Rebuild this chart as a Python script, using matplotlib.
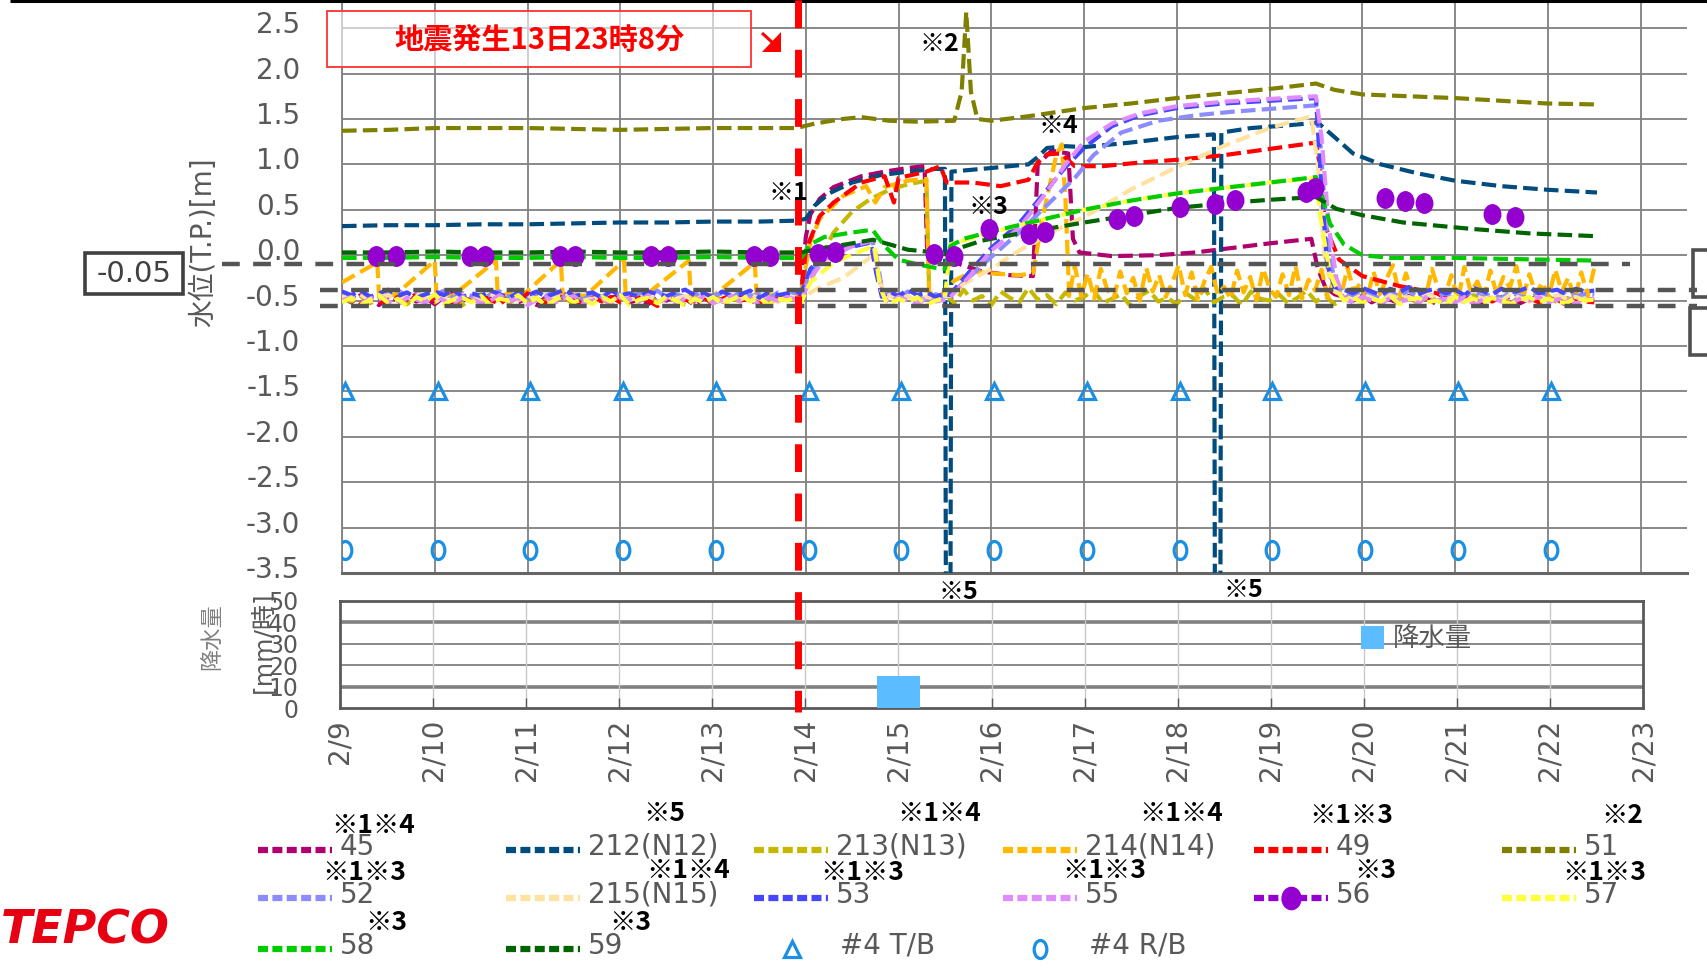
import numpy as np
import matplotlib
matplotlib.use('Agg')
import matplotlib.pyplot as plt
from matplotlib.markers import MarkerStyle
from matplotlib.transforms import Affine2D, ScaledTranslation, blended_transform_factory
from matplotlib.lines import Line2D
from matplotlib.patches import Rectangle, Polygon

plt.rcParams['font.family'] = ['DejaVu Sans', 'Noto Sans CJK JP']
plt.rcParams['axes.unicode_minus'] = False

# ---------------- DATA (t = days since 2/9 00:00, values in cm unless noted) -------------
date_labels = ['2/9', '2/10', '2/11', '2/12', '2/13', '2/14', '2/15', '2/16',
               '2/17', '2/18', '2/19', '2/20', '2/21', '2/22', '2/23']
y_ticks = [-3.5, -3.0, -2.5, -2.0, -1.5, -1.0, -0.5, 0.0, 0.5, 1.0, 1.5, 2.0, 2.5]
rain_ticks = [0, 10, 20, 30, 40, 50]
quake_t = 4.92
ref_levels = [-0.10, -0.38, -0.56]

series_names = ['45', '212(N12)', '213(N13)', '214(N14)', '49', '51', '52', '215(N15)',
                '53', '55', '56', '57', '58', '59']
series_notes = ['※1※4', '※5', '※1※4', '※1※4', '※1※3', '※2', '※1※3', '※1※4',
                '※1※3', '※1※3', '※3', '※1※3', '※3', '※3']

rain_t = [6.0]
rain_v = [15]

# building markers (#4 T/B at -1.5 m, #4 R/B at -3.25 m)
tb_t = [0.03, 1.03, 2.03, 3.03, 4.03, 5.03, 6.03, 7.03, 8.03, 9.03, 10.03, 11.03, 12.03, 13.03]
tb_v = [-1.5] * 14
rb_t = [0.03, 1.03, 2.03, 3.03, 4.03, 5.03, 6.03, 7.03, 8.03, 9.03, 10.03, 11.03, 12.03, 13.03]
rb_v = [-3.25] * 14

# 45
base45 = [-46, -52, -44, -49, -55, -45, -50, -43, -51, -47, -54, -46, -42, -50, -48, -53, -45, -49, -44, -52,
          -47, -55, -46, -50, -43, -48, -53, -45, -51, -47, -44, -52, -49, -54, -46, -50, -43, -48, -55, -47,
          -45, -51, -49, -44, -53, -46, -50, -48, -45, -47]
post45_t = [4.95, 5.0, 5.05, 5.15, 5.3, 5.6, 5.85, 6.1, 6.28, 6.31, 6.4, 6.6, 6.9, 7.2, 7.45, 7.5, 7.65, 7.83,
            7.88, 7.95, 8.3, 8.8, 9.2, 9.6, 10.0, 10.45, 10.52, 10.6, 10.7]
post45_v = [-44, 20, 45, 62, 75, 87, 92, 96, 98, 0, -3, -8, -18, -22, -23, 100, 115, 112,
            18, 3, -1, 0, 3, 8, 13, 18, -15, -35, -43]
tail45 = [-46, -50, -44, -52, -47, -49, -53, -45, -50, -48, -54, -46, -51, -44, -49, -52, -47, -50, -45, -53,
          -48, -46, -51, -49, -55, -47, -50, -48]

# 212(N12)
k212_t = [0, 0.5, 1, 1.5, 2, 2.5, 3, 3.5, 4, 4.5, 4.9, 5.0, 5.1, 5.25, 5.5, 5.8, 6.1, 6.4, 6.5, 6.51, 6.56,
          6.57, 7.0, 7.4, 7.5, 7.6, 7.8, 8.0, 8.5, 9.0, 9.4, 9.41, 9.47, 9.48, 9.8, 10.2, 10.52, 10.7, 10.9,
          11.2, 11.6, 12.0, 12.5, 13.0, 13.53]
k212_v = [32, 33, 33, 34, 34, 35, 36, 36, 37, 37, 38, 40, 55, 68, 80, 88, 92, 95, 95, -360, -360,
          92, 96, 100, 108, 118, 120, 119, 124, 130, 133, -360, -360, 135, 140, 143, 146, 130, 112,
          100, 90, 82, 76, 72, 69]

# 213(N13)
base213 = [-47, -51, -45, -53, -48, -44, -50, -54, -46, -49, -52, -45, -48, -55, -47, -43, -51, -49, -53, -46,
           -50, -44, -52, -48, -47, -54, -45, -50, -49, -53, -46, -48, -51, -44, -52, -47, -50, -55, -46, -49,
           -53, -45, -48, -51, -47, -44, -52, -49, -46, -50]
post213_t = [4.95, 5.05, 5.15, 5.3, 5.5, 5.7, 5.9, 6.1, 6.3, 6.33]
post213_v = [-45, -30, -5, 25, 48, 62, 72, 78, 82, -40]
tail213 = [-48, -42, -53, -38, -50, -45, -55, -40, -47, -52, -36, -49, -44, -54, -41, -50, -46, -38, -53, -48,
           -43, -56, -45, -39, -51, -47, -54, -42, -49, -37, -52, -46, -44, -55, -40, -48, -50, -43, -53, -47,
           -39, -51, -45, -54, -48, -42, -50, -46, -52, -44, -49, -47, -53, -45, -50, -48, -46, -52, -44, -51,
           -49, -47, -53, -46, -50, -48, -45, -52, -47, -50, -49, -51]

# 214(N14)
k214_t = [0, 0.38, 0.40, 0.5, 0.57, 1.0, 1.02, 1.1, 1.19, 1.66, 1.68, 1.8, 1.94, 2.36, 2.38, 2.5, 2.62, 3.04,
          3.06, 3.15, 3.26, 3.74, 3.76, 3.9, 4.0, 4.45, 4.47, 4.6, 4.75, 4.9, 4.95, 5.05, 5.15, 5.4, 5.65,
          5.75, 5.85, 6.1, 6.3, 6.33, 6.45, 6.6, 6.8, 7.0, 7.3, 7.45, 7.55, 7.7, 7.76, 7.8, 7.84]
k214_v = [-30, -8, -46, -42, -44, -6, -47, -43, -45, -6, -46, -42, -45, -6, -47, -43, -45, -6,
          -46, -43, -45, -6, -47, -43, -45, -8, -46, -43, -47, -45, -40, 15, 40, 65, 76,
          58, 75, 82, 84, -42, -45, -28, -18, -20, -22, -20, 40, 110, 122, 60, -45]
tail214 = [-12, -45, -20, -48, -15, -38, -47, -18, -42, -25, -50, -14, -40, -22, -46, -30, -11, -44, -19, -49,
           -28, -13, -43, -35, -48, -17, -41, -24, -50, -15, -37, -46, -21, -44, -12, -48, -27, -39, -16, -47,
           -23, -45, -14, -40, -31, -49, -18, -43, -26, -11, -46, -20, -42, -34, -48, -15, -38, -45, -22, -50,
           -13, -41, -29, -47, -17, -44, -24, -36, -12, -48, -21, -43, -30, -46, -16, -40, -25, -49, -19, -45,
           -14]

# 49
base49 = [-48, -44, -53, -47, -50, -56, -46, -49, -43, -52, -48, -45, -55, -47, -51, -44, -49, -54, -46, -50,
          -42, -48, -53, -45, -47, -55, -49, -44, -51, -46, -52, -48, -45, -50, -56, -47, -43, -49, -51, -46,
          -54, -48, -44, -50, -47, -53, -45, -49, -46, -48]
post49_t = [4.95, 5.0, 5.05, 5.15, 5.3, 5.6, 5.85, 5.95, 6.0, 6.3, 6.45, 6.52, 6.8, 7.1, 7.4, 7.5, 7.6, 7.75,
            7.9, 8.2, 8.6, 9.0, 9.5, 10.0, 10.5, 10.54, 10.6, 10.75, 11.0, 11.4, 11.8]
post49_v = [-45, 5, 18, 43, 58, 80, 87, 58, 85, 92, 98, 80, 80, 76, 83, 102, 111, 112,
            98, 98, 102, 105, 110, 117, 124, 100, 32, -5, -23, -34, -42]
tail49 = [-47, -50, -45, -52, -48, -51, -46, -53, -49, -47, -52, -50, -48, -54, -49, -51, -52]

# 51
k51_t = [0, 0.5, 1, 1.5, 2, 2.5, 3, 3.5, 4, 4.5, 4.9, 5.1, 5.4, 5.6, 5.9, 6.2, 6.6, 6.68, 6.73, 6.78, 6.85,
         7.0, 7.4, 8.0, 8.5, 9.0, 9.5, 10.0, 10.5, 10.7, 11.0, 11.5, 12.0, 12.5, 13.0, 13.52]
k51_v = [137, 138, 140, 140, 140, 139, 138, 139, 140, 140, 140, 145, 150, 152, 148, 147, 148, 180, 268, 180,
         150, 148, 153, 162, 167, 173, 178, 183, 189, 182, 177, 175, 173, 170, 167, 166]

# 52
base52 = [-42, -47, -40, -45, -49, -43, -38, -46, -41, -48, -44, -39, -47, -42, -45, -50, -43, -40, -46, -44,
          -48, -41, -45, -39, -47, -43, -49, -42, -46, -40, -44, -48, -42, -45, -39, -47, -43, -46, -41, -49,
          -44, -42, -47, -40, -45, -43, -48, -41, -44, -42]
post52a_t = [4.95, 5.05, 5.2, 5.4, 5.6, 5.72, 5.78, 5.83]
post52a_v = [-45, -20, -2, 8, 12, 15, -10, -45]
mid52 = [-42, -47, -40, -45, -49, -43, -46]
post52b_t = [6.55, 6.7, 7.0, 7.3, 7.6, 7.9, 8.1, 8.4, 8.8, 9.2, 9.6, 10.0, 10.5, 10.55, 10.62, 10.7]
post52b_v = [-45, -30, -2, 25, 55, 85, 110, 135, 148, 154, 158, 161, 165, 120, 20, -30]
tail52 = [-42, -46, -40, -44, -48, -41, -45, -39, -47, -43, -46, -42, -49, -44, -40, -46, -43, -47, -41, -45,
          -48, -42, -44, -46, -40, -45, -43, -44]

# 215(N15)
base215 = [-45, -49, -43, -51, -47, -44, -50, -46, -42, -48, -52, -45, -49, -44, -47, -51, -43, -48, -46, -50,
           -44, -49, -53, -45, -47, -42, -50, -48, -46, -51, -44, -49, -47, -43, -52, -46, -48, -45, -50, -44,
           -47, -51, -45, -49, -43, -48, -46, -52, -44, -47]
post215a_t = [4.95, 5.1, 5.4, 5.6, 5.75, 5.8, 5.86]
post215a_v = [-48, -38, -25, -10, 2, -30, -47]
mid215 = [-44, -49, -45, -51, -46, -48, -45]
post215b_t = [6.55, 6.7, 7.0, 7.3, 7.7, 8.0, 8.5, 9.0, 9.5, 10.0, 10.45, 10.52, 10.6, 10.7]
post215b_v = [-45, -32, -15, 5, 28, 42, 72, 97, 120, 140, 153, 100, -10, -40]
tail215 = [-45, -49, -43, -47, -51, -44, -48, -46, -50, -43, -47, -49, -45, -52, -44, -48, -46, -50, -43, -47,
           -51, -45, -49, -44, -48, -46, -50, -47]

# 53
base53 = [-40, -44, -39, -46, -42, -38, -45, -41, -47, -43, -40, -44, -38, -46, -42, -45, -39, -43, -47, -41,
          -44, -40, -46, -42, -38, -45, -43, -41, -47, -39, -44, -42, -46, -40, -43, -45, -41, -38, -44, -42,
          -46, -40, -45, -43, -39, -47, -41, -44, -42, -40]
post53a_t = [4.95, 5.05, 5.2, 5.45, 5.7, 5.76, 5.82]
post53a_v = [-42, -15, 0, 8, 14, -20, -46]
mid53 = [-40, -45, -38, -44, -41, -46, -42]
post53b_t = [6.55, 6.75, 7.0, 7.3, 7.6, 7.8, 8.0, 8.3, 8.6, 9.0, 9.5, 10.0, 10.5, 10.55, 10.62, 10.7]
post53b_v = [-44, -20, 8, 35, 72, 97, 118, 142, 154, 162, 167, 170, 173, 90, -10, -35]
tail53 = [-38, -42, -36, -40, -44, -37, -41, -35, -43, -39, -37, -42, -38, -44, -36, -40, -43, -37, -41, -39,
          -35, -42, -40, -38, -43, -37, -40, -39]

# 55
base55 = [-50, -46, -53, -48, -44, -51, -55, -47, -49, -52, -45, -50, -54, -46, -48, -53, -50, -44, -51, -47,
          -55, -49, -46, -52, -48, -45, -53, -50, -47, -54, -46, -49, -51, -44, -52, -48, -55, -47, -50, -46,
          -53, -49, -45, -51, -48, -54, -47, -50, -46, -49]
post55a_t = [4.95, 5.05, 5.2, 5.5, 5.72, 5.8, 5.85]
post55a_v = [-50, -25, -5, 10, 16, -30, -48]
mid55 = [-52, -46, -50, -54, -47, -51, -49]
post55b_t = [6.55, 6.75, 7.0, 7.3, 7.6, 7.8, 8.0, 8.3, 8.6, 9.0, 9.5, 10.0, 10.5, 10.56, 10.64, 10.72]
post55b_v = [-47, -25, 5, 30, 70, 100, 125, 145, 156, 164, 169, 172, 175, 130, 30, -25]
tail55 = [-48, -52, -46, -50, -54, -47, -51, -49, -53, -45, -50, -48, -52, -46, -54, -49, -47, -51, -53, -48,
          -50, -46, -52, -49, -47, -53, -50, -48]

# 56 (discrete readings, m)
s56_t = [0.37, 0.58, 1.38, 1.54, 2.35, 2.51, 3.33, 3.51, 4.44, 4.61, 5.13, 5.31, 6.38, 6.60, 6.98,
         7.41, 7.58, 8.36, 8.54, 9.03, 9.41, 9.63, 10.39, 10.49, 11.24, 11.46, 11.66, 12.40, 12.65]
s56_v = [-0.01, -0.01, -0.01, -0.01, -0.01, -0.01, -0.01, -0.01, -0.01, -0.01, 0.01, 0.03, 0.01, -0.01, 0.29,
         0.23, 0.25, 0.40, 0.43, 0.53, 0.56, 0.61, 0.70, 0.74, 0.63, 0.60, 0.58, 0.45, 0.42]

# 57
base57 = [-52, -47, -55, -49, -44, -53, -48, -56, -46, -51, -43, -54, -49, -47, -52, -45, -55, -48, -50, -44,
          -53, -47, -56, -49, -45, -52, -48, -54, -46, -51, -44, -55, -49, -47, -53, -45, -50, -56, -48, -52,
          -46, -54, -49, -44, -51, -47, -55, -48, -50, -46]
post57a_t = [4.95, 5.05, 5.3, 5.6, 5.74, 5.8, 5.86]
post57a_v = [-52, -30, -8, 5, 10, -35, -50]
mid57 = [-54, -48, -52, -46, -55, -50]
post57b_t = [6.5, 6.56, 7.0, 7.5, 8.0, 8.5, 9.0, 9.5, 10.0, 10.5, 10.55, 10.65, 10.75]
post57b_v = [-47, 12, 25, 38, 50, 60, 68, 74, 80, 85, 40, -20, -42]
tail57 = [-50, -46, -53, -48, -51, -45, -54, -49, -47, -52, -50, -55, -46, -51, -48, -53, -47, -50, -54, -49,
          -46, -52, -48, -51, -53, -47, -50, -49]

# 58
k58_t = [0, 0.5, 1, 1.5, 2, 2.5, 3, 3.5, 4, 4.5, 4.95, 5.05, 5.2, 5.5, 5.72, 5.85, 6.0, 6.2, 6.4, 6.5, 6.56,
         6.7, 7.0, 7.5, 8.0, 8.5, 9.0, 9.5, 10.0, 10.5, 10.55, 10.65, 10.8, 11.0, 11.3, 12.0, 13.0, 13.53]
k58_v = [-3, -3, -2, -3, -3, -2, -3, -3, -2, -3, -3, 12, 20, 25, 28, 10, -5, -10, -14, -15, 10,
         18, 26, 38, 50, 60, 68, 74, 80, 86, 70, 35, 12, 0, -3, -3, -5, -6]

# 59
k59_t = [0, 0.5, 1, 1.5, 2, 2.5, 3, 3.5, 4, 4.5, 4.95, 5.2, 5.5, 5.72, 5.9, 6.1, 6.3, 6.5, 6.6, 6.9, 7.2,
         7.6, 8.0, 8.5, 9.0, 9.5, 10.0, 10.5, 10.72, 11.0, 11.44, 12.17, 12.8, 13.5]
k59_v = [3, 3, 4, 3, 3, 4, 3, 3, 4, 3, 3, 8, 13, 17, 12, 6, 4, 1, 6, 16, 22,
         29, 36, 44, 52, 57, 61, 64, 51, 44, 36, 29, 24, 21]

colors = {'45': '#b0006e', '212(N12)': '#004c7f', '213(N13)': '#c4b800', '214(N14)': '#ffb800',
          '49': '#ff0000', '51': '#808000', '52': '#8c8cff', '215(N15)': '#ffe2a0', '53': '#4646ff',
          '55': '#e08cff', '56': '#9400d0', '57': '#ffff3c', '58': '#00cc00', '59': '#006400'}
bld_color = '#1a8fe3'


def build(*pieces):
    ts, vs = [], []
    for p in pieces:
        if p[0] == 'k':
            ts += list(p[1]); vs += list(p[2])
        else:
            t0, step, vals = p[1], p[2], p[3]
            ts += [t0 + step * i for i in range(len(vals))]
            vs += list(vals)
    return np.array(ts), np.array(vs) / 100.0


series = {
    '45': build(('n', 0, 0.1, base45), ('k', post45_t, post45_v), ('n', 10.8, 0.1, tail45)),
    '212(N12)': build(('k', k212_t, k212_v)),
    '213(N13)': build(('n', 0, 0.1, base213), ('k', post213_t, post213_v), ('n', 6.4, 0.1, tail213)),
    '214(N14)': build(('k', k214_t, k214_v), ('n', 7.9, 0.07, tail214)),
    '49': build(('n', 0, 0.1, base49), ('k', post49_t, post49_v), ('n', 11.9, 0.1, tail49)),
    '51': build(('k', k51_t, k51_v)),
    '52': build(('n', 0, 0.1, base52), ('k', post52a_t, post52a_v), ('n', 5.9, 0.1, mid52),
                ('k', post52b_t, post52b_v), ('n', 10.8, 0.1, tail52)),
    '215(N15)': build(('n', 0, 0.1, base215), ('k', post215a_t, post215a_v), ('n', 5.9, 0.1, mid215),
                      ('k', post215b_t, post215b_v), ('n', 10.8, 0.1, tail215)),
    '53': build(('n', 0, 0.1, base53), ('k', post53a_t, post53a_v), ('n', 5.9, 0.1, mid53),
                ('k', post53b_t, post53b_v), ('n', 10.8, 0.1, tail53)),
    '55': build(('n', 0, 0.1, base55), ('k', post55a_t, post55a_v), ('n', 5.9, 0.1, mid55),
                ('k', post55b_t, post55b_v), ('n', 10.8, 0.1, tail55)),
    '57': build(('n', 0, 0.1, base57), ('k', post57a_t, post57a_v), ('n', 5.9, 0.1, mid57),
                ('k', post57b_t, post57b_v), ('n', 10.8, 0.1, tail57)),
    '58': build(('k', k58_t, k58_v)),
    '59': build(('k', k59_t, k59_v)),
}

# ---------------- FIGURE ----------------
W, H = 1707, 966
fig = plt.figure(figsize=(W / 100, H / 100), dpi=100)


def rect(x0, y0, x1, y1):
    return [x0 / W, 1 - y1 / H, (x1 - x0) / W, (y1 - y0) / H]


GRAY_T = '#595959'
ax = fig.add_axes(rect(342, 0, 1687, 573))
ax.set_xlim(0, 14.5)
ax.set_ylim(-3.5, 2.81)
ax.set_axisbelow(True)
ax.set_xticks(range(0, 15))
ax.set_xticklabels([])
ax.set_yticks(y_ticks)
ax.set_yticklabels([f'{v:.1f}' for v in y_ticks])
ax.tick_params(axis='both', length=0)
ax.tick_params(axis='y', labelsize=20, labelcolor=GRAY_T, pad=30)
ax.grid(True, color='#808080', lw=1.3)
for s in ['top', 'right']:
    ax.spines[s].set_visible(False)
ax.spines['left'].set_color('#808080')
ax.spines['left'].set_linewidth(1.3)
ax.spines['bottom'].set_color('#666666')
ax.spines['bottom'].set_linewidth(2.2)
off = ScaledTranslation(0, 6 / 100, fig.dpi_scale_trans)
for lab in ax.get_yticklabels():
    lab.set_transform(lab.get_transform() + off)

order = ['45', '212(N12)', '213(N13)', '214(N14)', '49', '51', '52', '215(N15)', '53', '55', '57', '58', '59']
for name in order:
    t, v = series[name]
    ax.plot(t, v, color=colors[name], lw=3.0, dashes=(3.5, 1.5), solid_capstyle='butt', zorder=3)

dot_marker = MarkerStyle('o', transform=Affine2D().scale(0.85, 1.0))
ax.plot(s56_t, s56_v, linestyle='none', marker=dot_marker, ms=14, color=colors['56'], zorder=4)

circ_marker = MarkerStyle('o', transform=Affine2D().scale(0.7, 1.0))
ax.plot(tb_t, tb_v, linestyle='none', marker='^', ms=11, mfc='none', mec=bld_color, mew=2.3, zorder=4)
ax.plot(rb_t, rb_v, linestyle='none', marker=circ_marker, ms=13, mfc='none', mec=bld_color, mew=2.3, zorder=4)

# rain axes
axr = fig.add_axes(rect(340, 601, 1643, 708))
axr.patch.set_alpha(0)
axr.set_xlim(0, 14)
axr.set_ylim(0, 50)
axr.bar(rain_t, rain_v, width=0.47, color='#5bbdff', zorder=3)
axr.set_xticks(range(0, 15))
axr.set_xticklabels(date_labels, rotation=90)
axr.set_yticks(rain_ticks)
axr.set_yticklabels([str(v) for v in rain_ticks])
axr.tick_params(axis='x', direction='in', length=7, width=1, color='#595959', labelsize=20,
                labelcolor=GRAY_T, pad=8)
axr.tick_params(axis='y', length=0, labelsize=17, labelcolor=GRAY_T, pad=30)
for v in [20, 30]:
    axr.axhline(v, color='#808080', lw=1.3, zorder=1)
for v in [10, 40]:
    axr.axhline(v, color='#808080', lw=2.6, zorder=1)
for d in range(1, 14):
    axr.axvline(d, color='#c8c8c8', lw=1.0, zorder=1)
for s in axr.spines.values():
    s.set_color('#595959')
    s.set_linewidth(2)

# ---------------- OVERLAY (pixel coordinates) ----------------
ov = fig.add_axes([0, 0, 1, 1], zorder=10)
ov.set_xlim(0, W)
ov.set_ylim(H, 0)
ov.axis('off')
ov.patch.set_alpha(0)

# top black rule
ov.plot([10, W], [1.3, 1.3], color='black', lw=2.2, solid_capstyle='butt')

# reference dashed levels
tr_ref = blended_transform_factory(ov.transData, ax.transData)
ref_x = [(222, 1630), (320, 1697), (320, 1697)]
for lvl, (xa, xb) in zip(ref_levels, ref_x):
    ov.plot([xa, xb], [lvl, lvl], transform=tr_ref, color='#555555', lw=3.2, dashes=(4, 3),
            solid_capstyle='butt', clip_on=False)

# earthquake line
tr_q = blended_transform_factory(ax.transData, ov.transData)
ov.plot([quake_t, quake_t], [0, 712], transform=tr_q, color='#ff0000', lw=5, dashes=(4, 3.1), clip_on=False)

# title box
ov.add_patch(Rectangle((327, 11), 424, 56, facecolor=(1, 1, 1, 0.6), edgecolor='#ff3030', lw=1.3))
ov.text(539, 40, '地震発生13日23時8分', color='#ff0000', fontsize=21, fontweight='bold',
        family=['Noto Sans CJK JP'], ha='center', va='center')
# small down-right arrow
ov.plot([762, 774], [33, 44], color='#ff0000', lw=2.2, solid_capstyle='butt')
ov.add_patch(Polygon([[781, 52], [781, 32], [762, 52]], closed=True, facecolor='#ff0000', edgecolor='none'))

# -0.05 box
ov.add_patch(Rectangle((85, 253), 98, 41, facecolor='white', edgecolor='#404040', lw=2.6))
ov.text(134, 274, '-0.05', color='#404040', fontsize=21, ha='center', va='center')

# right-side (cropped) boxes
ov.add_patch(Rectangle((1693, 250), 40, 47, facecolor='white', edgecolor='#505050', lw=2.6, clip_on=False))
ov.add_patch(Rectangle((1690, 308), 40, 47, facecolor='white', edgecolor='#505050', lw=2.6, clip_on=False))

# axis titles
ov.text(203, 242, '水位(T.P.)[m]', rotation=90, color=GRAY_T, fontsize=20, ha='center', va='center')
ov.text(262, 642, '[mm/時]', rotation=90, color=GRAY_T, fontsize=18, ha='center', va='center')
ov.text(212, 637, '降水量', rotation=90, color='#808080', fontsize=16, ha='center', va='center')

# chart notes
note_kw = dict(color='black', fontsize=18, fontweight='bold', family=['Noto Sans CJK JP'],
               ha='center', va='center')
ov.text(788, 193, '※1', **note_kw)
ov.text(939, 44, '※2', **note_kw)
ov.text(988, 207, '※3', **note_kw)
ov.text(1058, 126, '※4', **note_kw)
ov.text(958, 592, '※5', **note_kw)
ov.text(1243, 590, '※5', **note_kw)

# rain legend
ov.add_patch(Rectangle((1361, 626), 23, 23, facecolor='#5bbdff', edgecolor='none'))
ov.text(1393, 646, '降水量', color=GRAY_T, fontsize=19, ha='left', va='baseline')

# main legend
row_y = [850, 898, 949]
col_x = [258, 506, 754, 1003, 1254, 1502]
layout = [(0, 0), (0, 1), (0, 2), (0, 3), (0, 4), (0, 5),
          (1, 0), (1, 1), (1, 2), (1, 3), (1, 4), (1, 5),
          (2, 0), (2, 1)]
note_pos = [(373, 835), (664, 823), (939, 823), (1181, 823), (1351, 825), (1622, 825),
            (364, 882), (688, 880), (862, 882), (1104, 880), (1375, 880), (1604, 882),
            (386, 932), (630, 932)]
for name, note, (r, c), (nx, ny) in zip(series_names, series_notes, layout, note_pos):
    x0 = col_x[c]
    y = row_y[r]
    ov.add_line(Line2D([x0, x0 + 74], [y, y], color=colors[name], lw=4.5, dashes=(1.6, 0.7),
                       solid_capstyle='butt'))
    if name == '56':
        ov.plot([x0 + 37], [y], marker=dot_marker, ms=16, color=colors[name], linestyle='none')
    ov.text(x0 + 82, y + 5, name, color=GRAY_T, fontsize=20, ha='left', va='baseline')
    ov.text(nx, ny - 2, note, color='black', fontsize=19, fontweight='bold', family=['Noto Sans CJK JP'],
            ha='center', va='baseline')

ov.plot([792], [row_y[2]], marker='^', ms=11, mfc='none', mec=bld_color, mew=2.3, linestyle='none')
ov.text(840, row_y[2] + 5, '#4 T/B', color=GRAY_T, fontsize=20, ha='left', va='baseline')
ov.plot([1040], [row_y[2]], marker=circ_marker, ms=13, mfc='none', mec=bld_color, mew=2.3, linestyle='none')
ov.text(1089, row_y[2] + 5, '#4 R/B', color=GRAY_T, fontsize=20, ha='left', va='baseline')

# TEPCO logo
ov.text(1, 943, 'TEPCO', color='#e60012', fontsize=33, fontweight='bold', fontstyle='italic',
        ha='left', va='baseline')

fig.savefig('out.png', dpi=100)
